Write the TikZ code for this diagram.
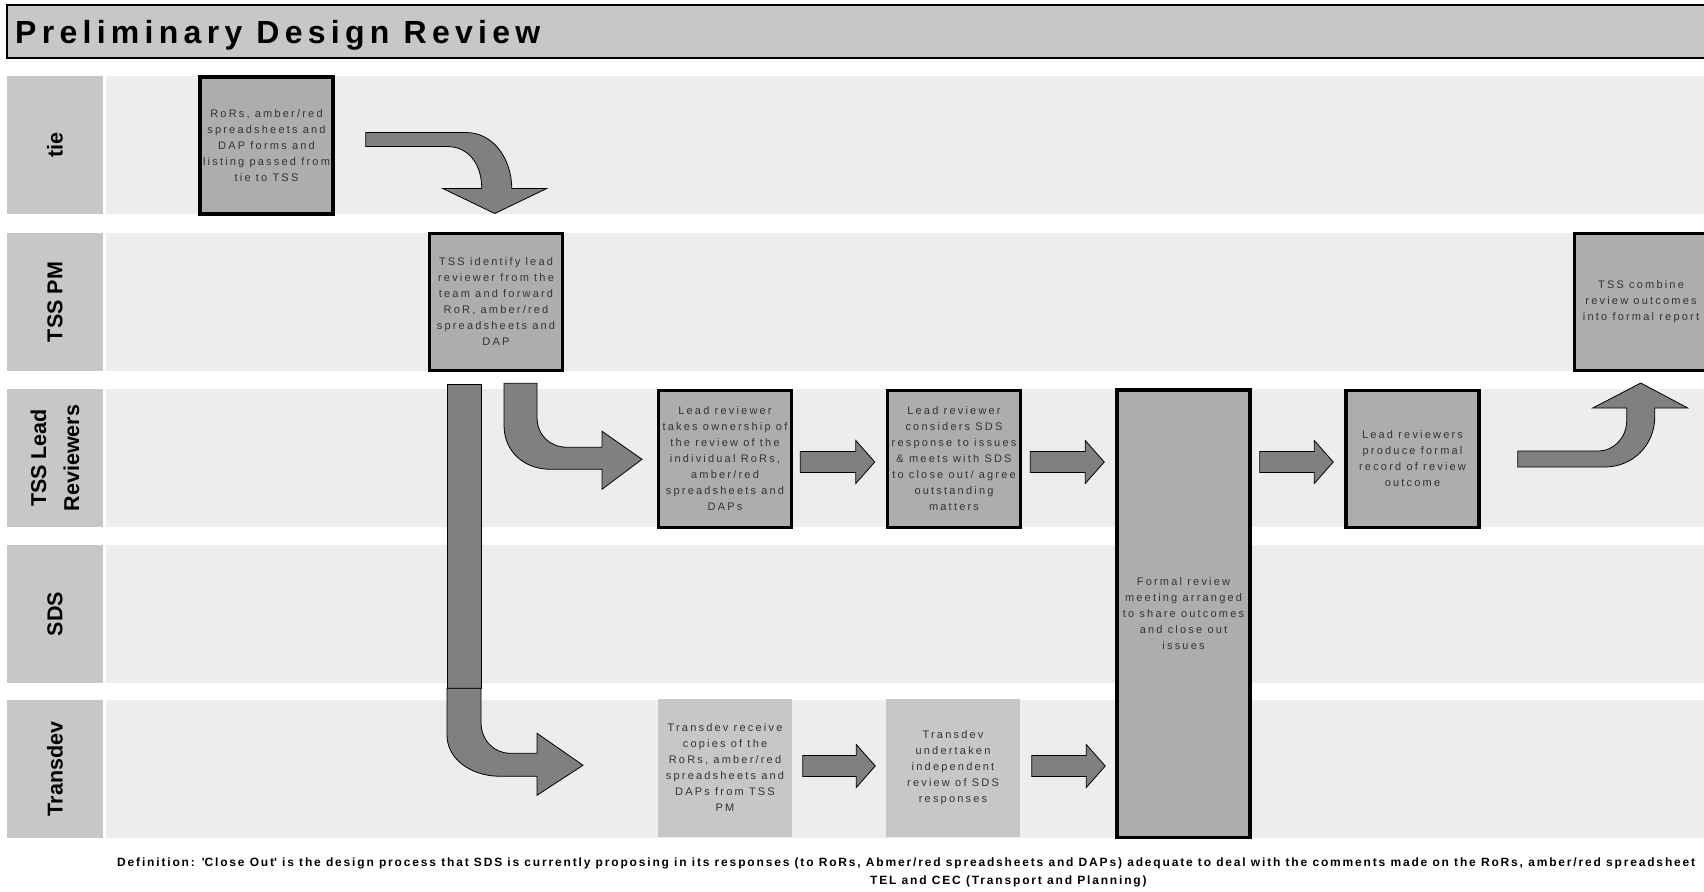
\documentclass[tikz,border=0pt]{standalone}
\usepackage{fontspec}
\setmainfont{Liberation Sans}
\newfontfamily\boxfont{Liberation Sans}[LetterSpace=20]
\newfontfamily\titlefont{Liberation Sans}[LetterSpace=16.5]
\newfontfamily\notefont{Liberation Sans}[LetterSpace=15.3]
\usetikzlibrary{positioning, calc, arrows.meta}

\definecolor{lanebg}{gray}{0.93}
\definecolor{headbg}{gray}{0.78}
\definecolor{boxbg}{gray}{0.68}
\definecolor{arrowbg}{gray}{0.5}

\newcommand{\fatarrow}[2]{%
    \draw [blockarrow] let \p1 = #1, \p2 = #2 in
        (\x1, \y1 + 10.5pt) -- (\x2 - 19pt, \y1 + 10.5pt) -- (\x2 - 19pt, \y1 + 21.5pt)
        -- (\x2, \y1) -- (\x2 - 19pt, \y1 - 21.5pt) -- (\x2 - 19pt, \y1 - 10.5pt)
        -- (\x1, \y1 - 10.5pt) -- cycle;}

\begin{document}
\begin{tikzpicture} [x=1pt, y=-1pt,
        lanebody/.style={fill=lanebg, inner sep=0pt, minimum width=1598, minimum height=138},
        lanehead/.style={fill=headbg, rotate=90, inner sep=0pt, minimum width=138, minimum height=96,
            align=center, font=\bfseries\fontsize{21.5}{33}\selectfont},
        taskbox/.style={draw, line width=3.5pt, fill=boxbg, minimum width=133, minimum height=137,
            inner sep=0pt, align=center, text=black!80, font=\boxfont\fontsize{11}{16}\selectfont},
        plainbox/.style={taskbox, draw=none, fill=headbg, minimum width=134, minimum height=138},
        blockarrow/.style={draw, line width=0.8pt, fill=arrowbg, line join=miter},
        note/.style={anchor=base west, inner sep=0pt, font=\notefont\bfseries\fontsize{12}{14}\selectfont}]
                \useasboundingbox (0, 0) rectangle (1704, 891);

                \draw [fill=headbg, line width=2.5pt] (7, 5) rectangle (1720, 58);
                \node [anchor=base west, inner sep=0pt, font=\titlefont\bfseries\fontsize{32}{36}\selectfont] (title) at (15, 44) {Preliminary Design Review};

                \node [lanebody] (btie) at (905, 145) {};
                \node [lanebody] (bpm) at (905, 302) {};
                \node [lanebody] (blr) at (905, 458) {};
                \node [lanebody] (bsds) at (905, 614) {};
                \node [lanebody] (btd) at (905, 769) {};

                \node [lanehead] (htie) at (55, 145) {tie};
                \node [lanehead] (hpm) at (55, 302) {TSS PM};
                \node [lanehead] (hlr) at (55, 458) {TSS Lead\\Reviewers};
                \node [lanehead] (hsds) at (55, 614) {SDS};
                \node [lanehead] (htd) at (55, 769) {Transdev};

                \node [taskbox] (tiebox) at (266.5, 145.5) {RoRs, amber/red\\spreadsheets and\\DAP forms and\\listing passed from\\tie to TSS};
                \node [taskbox] (pm) at (496, 302) {TSS identify lead\\reviewer from the\\team and forward\\RoR, amber/red\\spreadsheets and\\DAP};
                \node [taskbox] (lr1) at (725, 459) {Lead reviewer\\takes ownership of\\the review of the\\individual RoRs,\\amber/red\\spreadsheets and\\DAPs};
                \node [taskbox] (lr2) at (954, 459) {Lead reviewer\\considers SDS\\response to issues\\\& meets with SDS\\to close out/ agree\\outstanding\\matters};
                \node [taskbox, minimum height=447.5] (formal) at (1183.5, 613.5) {Formal review\\meeting arranged\\to share outcomes\\and close out\\issues};
                \node [taskbox] (lr3) at (1412.5, 459) {Lead reviewers\\produce formal\\record of review\\outcome};
                \node [taskbox] (combine) at (1641, 302) {TSS combine\\review outcomes\\into formal report};
                \node [plainbox] (td1) at (725, 768) {Transdev receive\\copies of the\\RoRs, amber/red\\spreadsheets and\\DAPs from TSS\\PM};
                \node [plainbox] (td2) at (953, 768) {Transdev\\undertaken\\independent\\review of SDS\\responses};

                \begin{scope} [shift={(tiebox.east)}]
                    \draw [blockarrow] (31, -13) -- (131, -13) .. controls (160, -13) and (177, 15) .. (177, 43) -- (212, 43) -- (160, 68) -- (108, 43) -- (147, 43) .. controls (147, 20) and (135, 1) .. (112, 1) -- (31, 1) -- cycle;
                \end{scope}

                \begin{scope} [shift={(pm.south)}]
                    \draw [blockarrow] (-49, 12) rectangle (-15, 316);
                    \draw [blockarrow] (-49, 316) -- (-49, 363) .. controls (-49, 386) and (-26, 404) .. (4, 404) -- (41, 404) -- (41, 423) -- (87, 393) -- (41, 361) -- (41, 381) -- (14, 381) .. controls (-2, 381) and (-15, 368) .. (-15, 350) -- (-15, 316) -- cycle;
                    \draw [blockarrow] (8, 11) -- (8, 53) .. controls (8, 80) and (29, 97) .. (54, 97) -- (106, 97) -- (106, 117) -- (146, 87) -- (106, 59) -- (106, 75) -- (71, 75) .. controls (54, 75) and (41, 63) .. (41, 45) -- (41, 11) -- cycle;
                \end{scope}

                \begin{scope} [shift={(lr3.east)}]
                    \draw [blockarrow] (37, -8) -- (117, -8) .. controls (134, -8) and (146, -22) .. (146, -39) -- (146, -51) -- (112, -51) -- (160, -76) -- (207, -51) -- (174, -51) -- (174, -42) .. controls (174, -14) and (152, 8) .. (124, 8) -- (37, 8) -- cycle;
                \end{scope}

                \fatarrow{($(lr1.east) + (7, 3)$)}{($(lr2.west) + (-11, 0)$)}
                \fatarrow{($(lr2.east) + (8, 3)$)}{($(formal.west) + (-11, 0)$)}
                \fatarrow{($(formal.east |- lr3.west) + (8, 3)$)}{($(lr3.west) + (-11, 0)$)}
                \fatarrow{($(td1.east) + (9, -2)$)}{($(td2.west) + (-9, 0)$)}
                \fatarrow{($(td2.east) + (10, -2)$)}{($(formal.west) + (-10, 0)$)}

                \node [note] (note) at (117, 866) {Definition: \textquotesingle Close Out\textquotesingle\ is the design process that SDS is currently proposing in its responses (to RoRs, Abmer/red spreadsheets and DAPs) adequate to deal with the comments made on the RoRs, amber/red spreadsheet};
                \node [note] (notetwo) at (870, 884) {TEL and CEC (Transport and Planning)};
            \end{tikzpicture}
\end{document}
